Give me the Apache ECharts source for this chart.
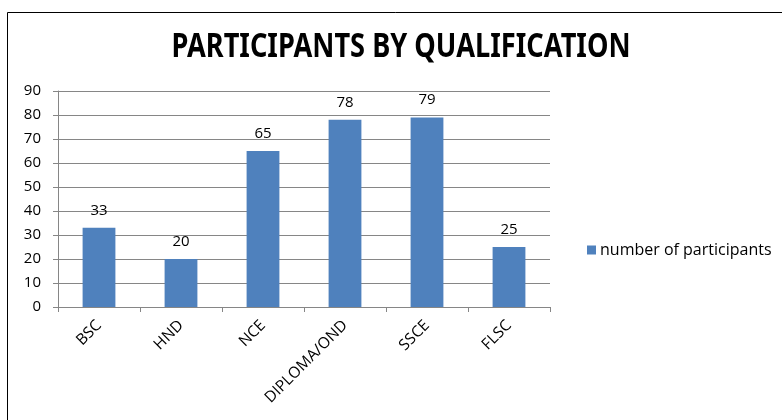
<!DOCTYPE html>
<html><head><meta charset="utf-8">
<script src="https://cdn.jsdelivr.net/npm/echarts@6/dist/echarts.min.js"></script>
<style>html,body{margin:0;padding:0;background:#fff}#c{width:782px;height:420px}</style>
</head><body><div id="c"></div>
<script>
const categories = ["BSC", "HND", "NCE", "DIPLOMA/OND", "SSCE", "FLSC"];
const participants = [33, 20, 65, 78, 79, 25];
const yTicks = [0, 10, 20, 30, 40, 50, 60, 70, 80, 90];
const seriesName = "number of participants";
const titleText = "PARTICIPANTS BY QUALIFICATION";

const font = "'Open Sans', 'Noto Sans', sans-serif";
const chart = echarts.init(document.getElementById('c'), null, {renderer: 'canvas'});
chart.setOption({
  animation: false,
  backgroundColor: '#fff',
  graphic: [{
    type: 'rect', shape: {x: 7.5, y: 12.5, width: 800, height: 420},
    style: {fill: 'none', stroke: '#000', lineWidth: 1}, z: -1
  }, {
    type: 'text', x: 401, y: 47, scaleX: 0.8,
    style: {text: titleText, fontFamily: "'Noto Sans', sans-serif", fontWeight: 'bold', fontSize: 34,
      fill: '#000', align: 'center', verticalAlign: 'middle'}
  }],
  legend: {
    data: [seriesName], left: 582, top: 237, itemWidth: 9, itemHeight: 9, itemGap: 5,
    icon: 'rect',
    textStyle: {fontFamily: font, fontSize: 16, color: '#000', padding: [0,0,0,-1]}
  },
  grid: {left: 58, right: 232, top: 91, bottom: 113, containLabel: false},
  xAxis: {
    type: 'category', data: categories,
    axisLine: {lineStyle: {color: '#868686'}},
    axisTick: {show: true, alignWithLabel: false, length: 5, lineStyle: {color: '#868686'}},
    axisLabel: {rotate: 45, fontFamily: font, fontSize: 15.5, color: '#000', margin: 16, interval: 0}
  },
  yAxis: {
    type: 'value', min: yTicks[0], max: yTicks[yTicks.length - 1], interval: 10,
    axisLine: {show: true, lineStyle: {color: '#868686'}},
    axisTick: {show: true, length: 5, lineStyle: {color: '#868686'}},
    splitLine: {lineStyle: {color: '#868686'}},
    axisLabel: {fontFamily: font, fontSize: 15, color: '#000', margin: 17}
  },
  series: [{
    name: seriesName, type: 'bar', data: participants, barWidth: '40%',
    itemStyle: {color: '#4F81BD'},
    label: {show: true, position: 'top', distance: 10, fontFamily: font, fontSize: 15, color: '#000'}
  }]
});
</script></body></html>
